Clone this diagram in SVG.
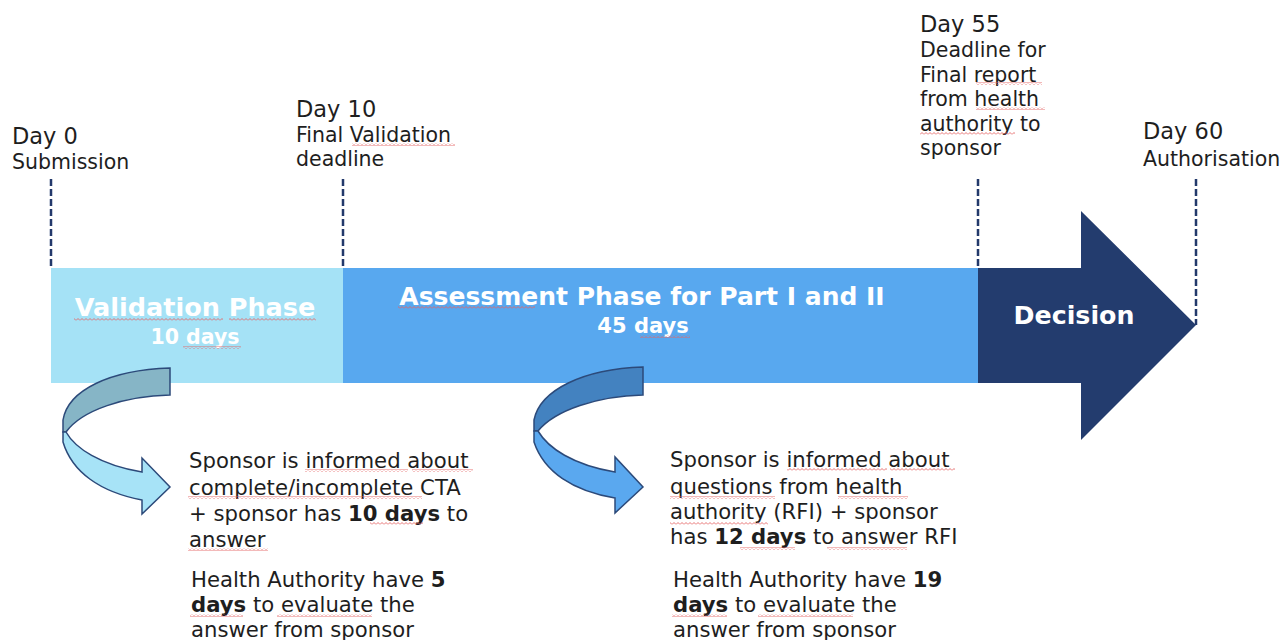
<svg xmlns="http://www.w3.org/2000/svg" width="1284" height="640" viewBox="0 0 1284 640">
<style>
text{font-family:"DejaVu Sans","Noto Sans",sans-serif;fill:#1e1e1e}
.day{font-size:22.5px}
.sub{font-size:20.5px}
.body{font-size:21.2px}
.ph{font-weight:bold;fill:#ffffff;text-anchor:middle}
.b{font-weight:bold}
.dash{stroke:#23396b;stroke-width:2.5;stroke-dasharray:7 3;fill:none}
.curl{stroke:#2c4a7a;stroke-width:1.5;stroke-linejoin:miter}
.sq{fill:url(#sq)}
</style>
<defs>
<pattern id="sq" patternUnits="userSpaceOnUse" width="4" height="3">
<path d="M0,2.5 L2,0.5 L4,2.5" stroke="#e46464" stroke-width="0.9" fill="none"/>
</pattern>
</defs>
<rect width="1284" height="640" fill="#ffffff"/>

<g id="validation-phase">
<rect x="51" y="268" width="292" height="115" fill="#a5e2f6"/>
<text class="ph" x="195" y="316" font-size="25.5">Validation Phase</text>
<text class="ph" x="195" y="344" font-size="20.5">10 days</text>
</g>

<g id="assessment-phase">
<rect x="343" y="268" width="635" height="115" fill="#58a8ef"/>
<text class="ph" x="642" y="305" font-size="25">Assessment Phase for Part I and II</text>
<text class="ph" x="643" y="333" font-size="21">45 days</text>
</g>

<g id="decision">
<path d="M978,268 L1081,268 L1081,211 L1196,325 L1081,440 L1081,383 L978,383 Z" fill="#233c6e"/>
<text class="ph" x="1074" y="324" font-size="25.3">Decision</text>
</g>

<g id="day0-label">
<text class="day" x="12" y="144">Day 0</text>
<text class="sub" x="12" y="169">Submission</text>
</g>

<g id="day10-label">
<text class="day" x="296" y="117">Day 10</text>
<text class="sub" x="296" y="142">Final Validation</text>
<text class="sub" x="296" y="166">deadline</text>
</g>

<g id="day55-label">
<text class="day" x="920" y="32">Day 55</text>
<text class="sub" x="920" y="57">Deadline for</text>
<text class="sub" x="920" y="82">Final report</text>
<text class="sub" x="920" y="106">from health</text>
<text class="sub" x="920" y="131">authority to</text>
<text class="sub" x="920" y="155">sponsor</text>
</g>

<g id="day60-label">
<text class="day" x="1143" y="139">Day 60</text>
<text class="sub" x="1143" y="166">Authorisation</text>
</g>

<g id="note-validation">
<text class="body" x="189" y="468">Sponsor is informed about</text>
<text class="body" x="189" y="495">complete/incomplete CTA</text>
<text class="body" x="189" y="521">+ sponsor has <tspan class="b">10 days</tspan> to</text>
<text class="body" x="189" y="547">answer</text>
<text class="body" x="191" y="587">Health Authority have <tspan class="b">5</tspan></text>
<text class="body" x="191" y="612"><tspan class="b">days</tspan> to evaluate the</text>
<text class="body" x="191" y="637">answer from sponsor</text>
</g>

<g id="note-assessment">
<text class="body" x="670" y="467">Sponsor is informed about</text>
<text class="body" x="670" y="494">questions from health</text>
<text class="body" x="670" y="519">authority (RFI) + sponsor</text>
<text class="body" x="670" y="544">has <tspan class="b">12 days</tspan> to answer RFI</text>
<text class="body" x="673" y="587">Health Authority have <tspan class="b">19</tspan></text>
<text class="body" x="673" y="612"><tspan class="b">days</tspan> to evaluate the</text>
<text class="body" x="673" y="637">answer from sponsor</text>
</g>

<g id="connectors">
<line class="dash" x1="51" y1="179" x2="51" y2="268"/>
<line class="dash" x1="343" y1="179" x2="343" y2="268"/>
<line class="dash" x1="978" y1="179" x2="978" y2="268"/>
<line class="dash" x1="1196" y1="179" x2="1196" y2="325"/>
<g id="curl-validation">
<path class="curl" fill="#86b5c6" d="M170,368 L170,395 C125,396 82,410 66,432 L63,432 L63,420 C68,390 110,370 170,368 Z"/>
<path class="curl" fill="#a7e3f7" d="M66,432 C75,448 100,465 142,472 L142,458 L170,487 L142,514 L142,500 C100,492 72,472 63,442 L63,432 Z"/>
</g>
<g id="curl-assessment">
<path class="curl" fill="#4382c0" d="M643,367 L643,395 C598,396 555,410 538,431 L534,431 L534,420 C540,390 583,369 643,367 Z"/>
<path class="curl" fill="#5aa8ef" d="M538,431 C548,448 573,465 615,472 L615,457 L643,487 L615,513 L615,498 C573,491 544,472 534,442 L534,431 Z"/>
</g>
</g>

<g id="spellcheck-marks">
<rect class="sq" x="352" y="143" width="103" height="3"/>
<rect class="sq" x="976" y="82" width="66" height="3"/>
<rect class="sq" x="976" y="107" width="69" height="3"/>
<rect class="sq" x="920" y="132" width="95" height="3"/>
<rect class="sq" x="74" y="318" width="149" height="3"/>
<rect class="sq" x="229" y="318" width="87" height="3"/>
<rect class="sq" x="183" y="346" width="58" height="3"/>
<rect class="sq" x="398" y="306" width="137" height="3"/>
<rect class="sq" x="640" y="335" width="50" height="3"/>
<rect class="sq" x="305" y="469" width="103" height="3"/>
<rect class="sq" x="412" y="469" width="61" height="3"/>
<rect class="sq" x="188" y="496" width="234" height="3"/>
<rect class="sq" x="370" y="522" width="53" height="3"/>
<rect class="sq" x="188" y="548" width="80" height="3"/>
<rect class="sq" x="190" y="614" width="53" height="3"/>
<rect class="sq" x="277" y="614" width="95" height="3"/>
<rect class="sq" x="787" y="468" width="100" height="3"/>
<rect class="sq" x="890" y="468" width="65" height="3"/>
<rect class="sq" x="670" y="496" width="105" height="3"/>
<rect class="sq" x="838" y="496" width="70" height="3"/>
<rect class="sq" x="670" y="522" width="98" height="3"/>
<rect class="sq" x="740" y="547" width="55" height="3"/>
<rect class="sq" x="827" y="547" width="80" height="3"/>
<rect class="sq" x="672" y="614" width="55" height="3"/>
<rect class="sq" x="758" y="614" width="95" height="3"/>
</g>
</svg>
